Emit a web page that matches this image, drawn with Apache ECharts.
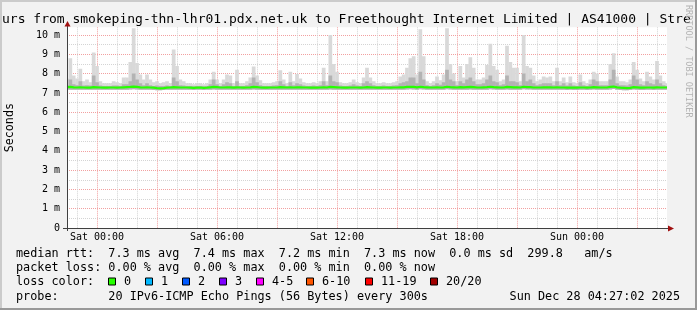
<!DOCTYPE html>
<html><head><meta charset="utf-8">
<script src="https://cdn.jsdelivr.net/npm/echarts@6/dist/echarts.min.js"></script>
<style>html,body{margin:0;padding:0;background:#f2f2f2}#c{width:697px;height:310px}</style>
</head><body><div id="c"></div>
<script>
// 10-minute slots from Fri 22:30 to Sun 04:30 (181 points)
const smokeMax = [
  7.75, 8.8, 7.9, 7.75, 8.25, 7.6, 7.7, 7.55, 9.1, 8.4,
  7.6, 7.5, 7.5, 7.5, 7.6, 7.55, 7.5, 7.8, 7.8, 8.6,
  10.35, 8.55, 7.95, 7.7, 7.95, 7.7, 7.55, 7.6, 7.5, 7.55,
  7.6, 7.5, 9.25, 8.4, 7.7, 7.6,
  7.5, 7.5, 7.45, 7.5, 7.5, 7.45, 7.5, 7.7, 8.1, 7.7,
  7.5, 7.7, 7.95, 7.9, 7.5, 8.2, 7.5, 7.5, 7.6, 7.8,
  8.37, 7.9, 7.65, 7.5, 7.5, 7.5, 7.55, 7.6, 8.17, 7.7,
  7.5, 8.1, 7.6, 7.98, 7.75, 7.55,
  7.5, 7.5, 7.55, 7.5, 7.6, 8.3, 7.6, 10.0, 8.5, 8.1,
  7.55, 7.5, 7.5, 7.55, 7.7, 7.55, 7.5, 7.8, 8.3, 7.8,
  7.6, 7.5, 7.5, 7.55, 7.5, 7.5, 7.55, 7.6, 7.85, 7.95,
  8.3, 8.8, 8.9, 7.95, 10.3, 8.9,
  7.6, 7.5, 7.6, 7.85, 7.65, 7.95, 10.35, 8.5, 8.0, 7.6,
  8.4, 7.8, 8.5, 8.85, 8.3, 7.7, 7.7, 7.8, 8.45, 9.55,
  8.4, 8.2, 7.6, 7.7, 9.45, 8.6, 8.3, 8.3, 7.6, 10.0,
  8.4, 8.3, 7.9, 7.6, 7.7, 7.85,
  7.8, 7.85, 7.6, 8.3, 7.6, 7.8, 7.55, 7.85, 7.55, 7.5,
  7.95, 7.6, 7.5, 7.7, 8.1, 8.0, 7.6, 7.6, 7.6, 8.5,
  9.05, 7.85, 7.6, 7.6, 7.55, 7.7, 8.6, 8.2, 7.75, 7.6,
  8.1, 7.85, 7.7, 8.65, 7.9, 7.6, 7.5
];
const smokeMid = [
  7.4, 7.7, 7.45, 7.4, 7.6, 7.38, 7.4, 7.38, 7.9, 7.55,
  7.38, 7.36, 7.36, 7.36, 7.38, 7.38, 7.36, 7.45, 7.45, 7.6,
  8.0, 7.7, 7.5, 7.4, 7.5, 7.4, 7.36, 7.38, 7.36, 7.36,
  7.38, 7.36, 7.8, 7.6, 7.4, 7.38,
  7.36, 7.36, 7.35, 7.36, 7.36, 7.35, 7.36, 7.45, 7.7, 7.45,
  7.36, 7.45, 7.55, 7.5, 7.36, 7.6, 7.36, 7.36, 7.4, 7.5,
  7.8, 7.55, 7.4, 7.36, 7.36, 7.36, 7.38, 7.4, 7.6, 7.45,
  7.36, 7.55, 7.4, 7.5, 7.45, 7.38,
  7.36, 7.36, 7.38, 7.36, 7.4, 7.6, 7.4, 7.9, 7.6, 7.55,
  7.38, 7.36, 7.36, 7.38, 7.45, 7.38, 7.36, 7.5, 7.6, 7.5,
  7.4, 7.36, 7.36, 7.38, 7.36, 7.36, 7.38, 7.4, 7.5, 7.55,
  7.6, 7.8, 7.8, 7.5, 8.1, 7.7,
  7.4, 7.36, 7.4, 7.5, 7.42, 7.55, 8.2, 7.7, 7.6, 7.4,
  7.6, 7.5, 7.7, 7.8, 7.6, 7.45, 7.45, 7.5, 7.7, 7.9,
  7.6, 7.55, 7.4, 7.45, 7.9, 7.6, 7.6, 7.55, 7.4, 8.0,
  7.6, 7.7, 7.5, 7.4, 7.45, 7.5,
  7.5, 7.5, 7.4, 7.6, 7.4, 7.5, 7.38, 7.5, 7.38, 7.36,
  7.55, 7.4, 7.36, 7.45, 7.7, 7.6, 7.4, 7.4, 7.4, 7.7,
  8.2, 7.5, 7.4, 7.4, 7.38, 7.45, 7.9, 7.7, 7.45, 7.4,
  7.6, 7.5, 7.45, 7.7, 7.5, 7.4, 7.36
];
const medianRtt = [
  7.30, 7.31, 7.29, 7.28, 7.29, 7.28, 7.27, 7.27, 7.30, 7.29,
  7.28, 7.27, 7.27, 7.28, 7.28, 7.27, 7.28, 7.29, 7.30, 7.31,
  7.33, 7.31, 7.29, 7.28, 7.29, 7.28, 7.27, 7.25, 7.24, 7.25,
  7.27, 7.28, 7.30, 7.29, 7.28, 7.28,
  7.28, 7.27, 7.26, 7.27, 7.28, 7.26, 7.27, 7.29, 7.31, 7.30,
  7.28, 7.28, 7.29, 7.29, 7.27, 7.29, 7.28, 7.27, 7.28, 7.29,
  7.31, 7.30, 7.28, 7.27, 7.27, 7.28, 7.28, 7.28, 7.30, 7.29,
  7.28, 7.29, 7.28, 7.29, 7.29, 7.28,
  7.28, 7.27, 7.28, 7.27, 7.28, 7.29, 7.28, 7.31, 7.30, 7.29,
  7.28, 7.27, 7.27, 7.28, 7.28, 7.28, 7.27, 7.28, 7.30, 7.29,
  7.28, 7.27, 7.27, 7.28, 7.28, 7.27, 7.28, 7.28, 7.29, 7.29,
  7.31, 7.32, 7.31, 7.29, 7.32, 7.30,
  7.29, 7.28, 7.28, 7.29, 7.28, 7.29, 7.32, 7.30, 7.29, 7.28,
  7.30, 7.29, 7.30, 7.31, 7.30, 7.28, 7.28, 7.29, 7.30, 7.32,
  7.30, 7.29, 7.28, 7.28, 7.31, 7.30, 7.29, 7.29, 7.28, 7.32,
  7.30, 7.30, 7.28, 7.28, 7.28, 7.29,
  7.29, 7.29, 7.28, 7.29, 7.28, 7.28, 7.27, 7.28, 7.27, 7.27,
  7.28, 7.28, 7.27, 7.28, 7.30, 7.29, 7.28, 7.28, 7.28, 7.31,
  7.33, 7.29, 7.27, 7.26, 7.25, 7.26, 7.30, 7.29, 7.27, 7.27,
  7.28, 7.28, 7.27, 7.29, 7.28, 7.28, 7.28
];
const smokeMin = [
  7.18, 7.17, 7.17, 7.16, 7.17, 7.17, 7.16, 7.16, 7.17, 7.17,
  7.16, 7.16, 7.16, 7.17, 7.16, 7.16, 7.16, 7.17, 7.17, 7.18,
  7.19, 7.18, 7.17, 7.16, 7.17, 7.16, 7.15, 7.14, 7.14, 7.15,
  7.16, 7.16, 7.17, 7.17, 7.16, 7.16,
  7.16, 7.16, 7.15, 7.16, 7.16, 7.15, 7.16, 7.17, 7.18, 7.17,
  7.16, 7.16, 7.17, 7.17, 7.16, 7.17, 7.16, 7.16, 7.16, 7.17,
  7.18, 7.17, 7.16, 7.16, 7.16, 7.16, 7.16, 7.16, 7.17, 7.17,
  7.16, 7.17, 7.16, 7.17, 7.17, 7.16,
  7.16, 7.16, 7.16, 7.16, 7.16, 7.17, 7.16, 7.18, 7.17, 7.17,
  7.16, 7.16, 7.16, 7.16, 7.16, 7.16, 7.16, 7.16, 7.17, 7.17,
  7.16, 7.16, 7.16, 7.16, 7.16, 7.16, 7.16, 7.16, 7.17, 7.17,
  7.18, 7.19, 7.18, 7.17, 7.19, 7.18,
  7.17, 7.16, 7.16, 7.17, 7.16, 7.17, 7.19, 7.18, 7.17, 7.16,
  7.17, 7.17, 7.17, 7.18, 7.17, 7.16, 7.16, 7.17, 7.17, 7.19,
  7.18, 7.17, 7.16, 7.16, 7.18, 7.17, 7.17, 7.17, 7.16, 7.19,
  7.18, 7.18, 7.16, 7.16, 7.16, 7.17,
  7.17, 7.17, 7.16, 7.17, 7.16, 7.16, 7.15, 7.16, 7.15, 7.15,
  7.16, 7.16, 7.15, 7.16, 7.18, 7.17, 7.16, 7.16, 7.16, 7.18,
  7.20, 7.17, 7.15, 7.14, 7.14, 7.15, 7.18, 7.17, 7.15, 7.15,
  7.16, 7.16, 7.15, 7.17, 7.16, 7.16, 7.16
];
const dayNames = ['Fri', 'Sat', 'Sun'];
const startMinute = 22 * 60 + 30;   // Fri 22:30
const stepMinutes = 10;
const yTickValues = [0, 1, 2, 3, 4, 5, 6, 7, 8, 9, 10];
const xLabelHours = ['00:00', '06:00', '12:00', '18:00'];
const lossLabels = ['0', '1', '2', '3', '4-5', '6-10', '11-19', '20/20'];
const lossColors = ['#26ff00', '#00b8ff', '#0059ff', '#7e00ff', '#ff00ff', '#ff5500', '#ff0000', '#a10000'];
const titleText = 'urs from smokeping-thn-lhr01.pdx.net.uk to Freethought Internet Limited | AS41000 | Stre';
const statLines = [
  'median rtt:  7.3 ms avg  7.4 ms max  7.2 ms min  7.3 ms now  0.0 ms sd  299.8   am/s',
  'packet loss: 0.00 % avg  0.00 % max  0.00 % min  0.00 % now',
  'loss color:',
  'probe:       20 IPv6-ICMP Echo Pings (56 Bytes) every 300s'
];
const stampText = 'Sun Dec 28 04:27:02 2025';

// layout
const MONO = '"DejaVu Sans Mono", monospace';
const lineY = [254.2, 268.4, 282, 296.8];
const boxX = [108.5, 145.5, 182.5, 219.5, 256.5, 306.5, 365.5, 430.5];

function pad(n) { return (n < 10 ? '0' : '') + n; }
const categories = smokeMax.map(function (_, k) {
  const m = startMinute + k * stepMinutes;
  const d = Math.floor(m / 1440), mm = m % 1440;
  return dayNames[d] + ' ' + pad(Math.floor(mm / 60)) + ':' + pad(mm % 60);
});

function smokeSeries(topArr, color, z) {
  return {
    type: 'custom', z: z, clip: true,
    encode: { x: 0, y: [1, 2] },
    data: topArr.map(function (v, i) { return [i, smokeMin[i], v]; }),
    renderItem: function (params, api) {
      const lo = api.coord([api.value(0), api.value(1)]);
      const hi = api.coord([api.value(0), api.value(2)]);
      const w = api.size([1, 0])[0];
      return { type: 'rect', shape: { x: lo[0] - w / 2 - 0.2, y: hi[1], width: w + 0.4, height: lo[1] - hi[1] },
               style: { fill: color } };
    }
  };
}

const txt = function (x, y, s, size, extra) {
  return Object.assign({ type: 'text', x: x, y: y, z: 100,
    style: Object.assign({ text: s, font: size + 'px ' + MONO, fill: '#000', align: 'left', verticalAlign: 'middle' }, extra || {}) });
};

const graphics = [
  { type: 'rect', shape: { x: 0, y: 0, width: 697, height: 2 }, style: { fill: '#cbcbcb' }, z: 100 },
  { type: 'rect', shape: { x: 0, y: 0, width: 2, height: 310 }, style: { fill: '#cbcbcb' }, z: 100 },
  { type: 'rect', shape: { x: 0, y: 308, width: 697, height: 2 }, style: { fill: '#999999' }, z: 101 },
  { type: 'rect', shape: { x: 695, y: 0, width: 2, height: 310 }, style: { fill: '#999999' }, z: 101 },
  txt(2, 20, titleText, 13),
  { type: 'text', x: 688.5, y: 5, rotation: -Math.PI / 2, z: 100,
    style: { text: 'RRDTOOL / TOBI OETIKER', font: '8.5px ' + MONO, fill: '#b4b4b4', align: 'left', verticalAlign: 'middle' } },
  { type: 'line', shape: { x1: 63, y1: 228.5, x2: 669, y2: 228.5 }, style: { stroke: '#404040', lineWidth: 1 }, z: 100 },
  { type: 'line', shape: { x1: 67.5, y1: 231, x2: 67.5, y2: 25 }, style: { stroke: '#404040', lineWidth: 1 }, z: 100 },
  { type: 'polygon', shape: { points: [[668, 225.5], [674, 228.5], [668, 231.5]] }, style: { fill: '#a01010' }, z: 101 },
  { type: 'polygon', shape: { points: [[64.5, 26.5], [67.5, 21], [70.5, 26.5]] }, style: { fill: '#a01010' }, z: 101 }
];
statLines.forEach(function (s, i) { graphics.push(txt(16, lineY[i], s, 11.8)); });
graphics.push(txt(680, lineY[3], stampText, 11.8, { align: 'right' }));
lossLabels.forEach(function (lab, i) {
  graphics.push({ type: 'rect', z: 100, shape: { x: boxX[i], y: 278, width: 7, height: 7 },
                  style: { fill: lossColors[i], stroke: '#000', lineWidth: 1 } });
  graphics.push(txt(boxX[i] + 15.5, lineY[2], lab, 11.8));
});

const chart = echarts.init(document.getElementById('c'), null, { renderer: 'canvas' });
chart.setOption({
  animation: false,
  backgroundColor: '#f2f2f2',
  textStyle: { fontFamily: MONO },
  grid: { left: 67, right: 30, top: 27.3, bottom: 82, show: true, backgroundColor: '#ffffff', borderWidth: 0, outerBoundsMode: 'none' },
  xAxis: {
    type: 'category', data: categories, boundaryGap: false,
    axisLine: { show: false }, axisTick: { show: false },
    axisLabel: {
      interval: function (i, v) { return xLabelHours.indexOf(v.slice(4)) >= 0; },
      fontFamily: MONO, fontSize: 10, color: '#000', margin: 4.5
    },
    splitLine: {
      show: true,
      interval: function (i, v) { return v.slice(-2) === '00'; },
      lineStyle: { color: ['#d4d4d4', '#f2a0a0', '#d4d4d4'], type: [1, 1], width: 1 }
    }
  },
  yAxis: {
    type: 'value', min: 0, max: 10.4, interval: 0.5,
    axisLine: { show: false }, axisTick: { show: false },
    axisLabel: {
      formatter: function (v) { return yTickValues.indexOf(v) >= 0 ? (v === 0 ? '0' : v + ' m') : ''; },
      fontFamily: MONO, fontSize: 10, color: '#000', margin: 7
    },
    splitLine: { show: true, showMaxLine: false, lineStyle: { color: ['#f2a0a0', '#d4d4d4'], type: [1, 1], width: 1 } },
    name: 'Seconds', nameLocation: 'middle', nameGap: 51,
    nameTextStyle: { fontFamily: MONO, fontSize: 11.7, color: '#000' }
  },
  series: [
    smokeSeries(smokeMax, '#d9d9d9', 2),
    smokeSeries(smokeMid, '#b3b3b3', 3),
    { type: 'line', data: medianRtt, showSymbol: false, z: 5,
      lineStyle: { color: '#26ff00', width: 2.2 }, itemStyle: { color: '#26ff00' } }
  ],
  graphic: graphics
});
</script></body></html>
